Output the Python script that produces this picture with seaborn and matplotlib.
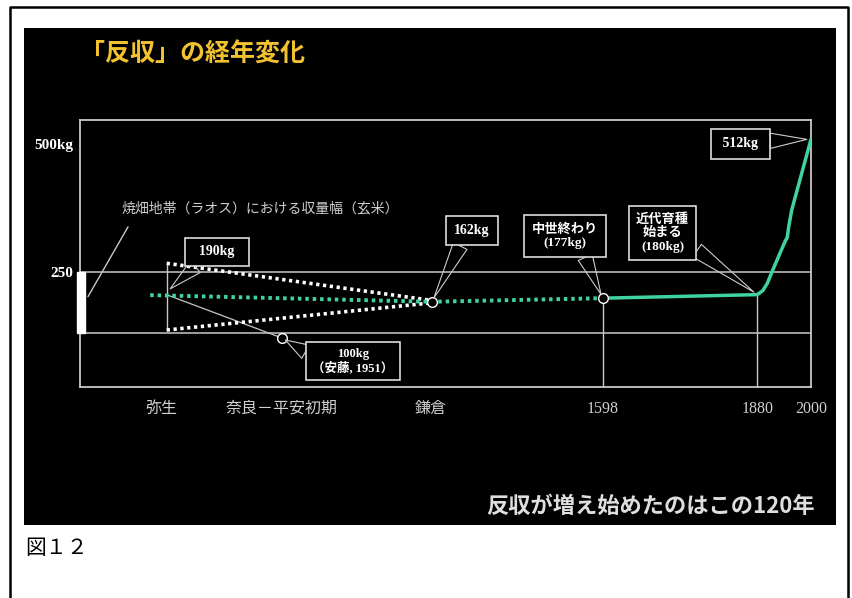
import matplotlib
matplotlib.use("Agg")
import matplotlib.pyplot as plt
from matplotlib.patches import Rectangle
from matplotlib.lines import Line2D
import seaborn as sns
import pandas as pd

# ---------------- data ----------------
# schematic timeline position (0 = left frame, 100 = year 2000)
tick_pos = [11.1, 27.6, 48.0, 71.5, 92.65, 100.0]
tick_labels = ["弥生", "奈良－平安初期", "鎌倉", "1598", "1880", "2000"]

ytick_vals = [250, 500]
ytick_labels = ["250", "500kg"]

# estimated trend (dotted green)
est_pos = [9.6, 48.15, 71.5]
est_yield = [204, 191, 198]

# observed trend (solid green)
obs_pos = [71.5, 92.65, 93.39, 94.02, 94.76, 96.44, 96.76, 96.95, 97.36, 100.0]
obs_yield = [198, 205, 212.7, 227, 253, 309, 317.5, 338, 371, 510]

# Yayoi range wedge (white dotted)
upper_pos = [11.86, 47.9]
upper_yield = [266.5, 194]
lower_pos = [11.86, 47.9]
lower_yield = [135.5, 188.6]

laos_range = [130, 250]       # 焼畑地帯（ラオス）の収量幅
ref_levels = [250, 130]

ando_point = (27.6, 120)      # 100kg（安藤, 1951）
kamakura_point = (48.15, 191)
medieval_point = (71.5, 198)

# ---------------- style ----------------
sns.set_theme(style="dark")
plt.rcParams["font.family"] = ["Liberation Serif", "Noto Sans CJK JP", "DejaVu Sans"]

GREEN = "#3fd3a0"
GRID = "#c8c8c8"

fig = plt.figure(figsize=(8.53, 5.98), dpi=100)
fig.patch.set_facecolor("white")

# black panel
fig.add_artist(Rectangle((24 / 853, 1 - 525 / 598), (836 - 24) / 853, (525 - 28) / 598,
                         transform=fig.transFigure, facecolor="black", edgecolor="none", zorder=0))
# outer border
fig.add_artist(Line2D([9.5 / 853, 9.5 / 853, 848.5 / 853, 848.5 / 853],
                      [0, 1 - 7 / 598, 1 - 7 / 598, 0], transform=fig.transFigure,
                      color="black", lw=1.8, zorder=0))

ax = fig.add_axes([80 / 853, 1 - 387 / 598, (811 - 80) / 853, (387 - 120) / 598])
ax.set_facecolor("black")
ax.set_xlim(0, 100)
ax.set_ylim(23.7, 547.7)
for s in ax.spines.values():
    s.set_color(GRID)
    s.set_linewidth(1.3)
    s.set_visible(True)
ax.grid(False)

# reference lines
for lv in ref_levels:
    ax.axhline(lv, color=GRID, lw=1.1, zorder=1)
ax.vlines([medieval_point[0], obs_pos[1]], 23.7, [medieval_point[1], obs_yield[1]],
          color=GRID, lw=1.0, zorder=1)

# Laos range bar
ax.bar(0.1, laos_range[1] - laos_range[0], bottom=laos_range[0], width=1.14,
       color="white", clip_on=False, zorder=3)
ax.plot([6.57, 1.09], [338, 201], color=GRID, lw=1.0, zorder=3)
ax.text(24.6, 375, "焼畑地帯（ラオス）における収量幅（玄米）", ha="center", va="center",
        fontsize=10, color="#cfcfcf", family=["Noto Sans CJK JP"])

# Yayoi wedge
ax.plot([upper_pos[0], lower_pos[0]], [upper_yield[0], lower_yield[0]], color=GRID, lw=1.0, zorder=2)
sns.lineplot(x=upper_pos, y=upper_yield, ax=ax, color="white", lw=2.6, sort=False,
             linestyle=(0, (0.9, 1.0)), zorder=4)
sns.lineplot(x=lower_pos, y=lower_yield, ax=ax, color="white", lw=2.6, sort=False,
             linestyle=(0, (0.9, 1.0)), zorder=4)
ax.plot([12.0, ando_point[0]], [204, ando_point[1]], color=GRID, lw=0.9, zorder=2)

# green trend
sns.lineplot(x=est_pos, y=est_yield, ax=ax, color=GREEN, lw=2.8, sort=False,
             linestyle=(0, (0.9, 1.0)), zorder=5)
sns.lineplot(x=obs_pos, y=obs_yield, ax=ax, color=GREEN, lw=2.5, sort=False, zorder=5)

# circles
for p in [ando_point, kamakura_point, medieval_point]:
    ax.plot(*p, marker="o", ms=7, mfc="black", mec="white", mew=1.0, zorder=7)

# callout annotations: text, point, text position, fontsize, pad, leader start (relative)
annots = [
    ("  190kg  ", (11.9, 210.8), (18.74, 288.7), 10, 0.55, (0.25, 0.0)),
    ("100kg\n（安藤, 1951）", ando_point, (37.35, 74.8), 9, 0.5, (0.0, 0.7)),
    ("162kg", kamakura_point, (53.6, 330.8), 10, 0.6, (0.3, 0.0)),
    ("中世終わり\n(177kg)", medieval_point, (66.35, 320), 9.5, 0.6, (0.75, 0.0)),
    ("近代育種\n始まる\n(180kg)", (obs_pos[1], obs_yield[1]), (79.7, 326), 9.5, 0.55, (1.0, 0.2)),
    (" 512kg ", (obs_pos[-1], obs_yield[-1]), (90.3, 501.2), 10, 0.6, (1.0, 0.7)),
]
for txt, pt, tp, fs, pad, rel in annots:
    ax.annotate(txt, xy=pt, xytext=tp, ha="center", va="center", fontsize=fs,
                color="white", fontweight="bold", linespacing=1.15,
                family=["Liberation Serif", "Noto Sans CJK JP"], zorder=8,
                bbox=dict(boxstyle=f"square,pad={pad}", fc="black", ec="#dddddd", lw=1.2),
                arrowprops=dict(arrowstyle="wedge,tail_width=1.1,shrink_factor=0.5",
                                fc="none", ec="#cccccc", lw=0.8, shrinkA=0, shrinkB=3,
                                mutation_scale=10, relpos=rel))

# ticks
ax.set_xticks(tick_pos)
ax.set_xticklabels(tick_labels, fontsize=11.5, color="#cfcfcf")
ax.tick_params(axis="x", length=0, pad=10)
ax.set_yticks(ytick_vals)
ax.set_yticklabels(ytick_labels, fontsize=11, color="white", fontweight="bold")
ax.tick_params(axis="y", direction="in", length=9, color=GRID, pad=5, width=1)
ax.set_xlabel("")
ax.set_ylabel("")

# titles and notes
fig.text(80 / 853, 1 - 55 / 598, "「反収」の経年変化", ha="left", va="center",
         fontsize=18, fontweight="bold", color="#f2c230", family=["Noto Sans CJK JP"])
fig.text(815 / 853, 1 - 506 / 598, "反収が増え始めたのはこの120年", ha="right", va="center",
         fontsize=16, fontweight="bold", color="#dedede", family=["Noto Sans CJK JP"])
fig.text(25 / 853, 1 - 548 / 598, "図１２", ha="left", va="center",
         fontsize=15, color="black", family=["Noto Sans CJK JP"])

fig.savefig("out.png", dpi=100, facecolor=fig.get_facecolor())
